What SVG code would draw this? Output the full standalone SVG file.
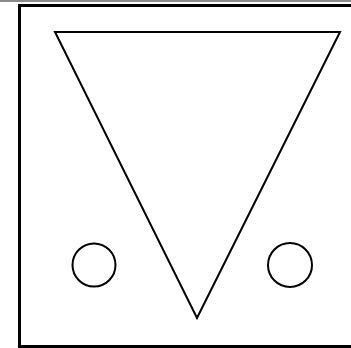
<svg xmlns="http://www.w3.org/2000/svg" width="351" height="348" viewBox="0 0 351 348">
<style>
.shape{fill:none;stroke:#000;stroke-width:2}
.border{fill:none;stroke:#000;stroke-width:3}
</style>
<rect x="0" y="0" width="351" height="348" fill="#fff"/>
<rect x="0" y="0" width="351" height="2" fill="#8a8a8a"/>
<g id="frame">
<path class="border" d="M19.5,348 V5.5 H351"/>
<path class="border" d="M19.5,346.5 H351" stroke-width="2"/>
</g>
<g id="triangle">
<polygon class="shape" points="55,32 340,32 197,318"/>
</g>
<g id="circle-left">
<circle class="shape" cx="94" cy="265" r="21.5"/>
</g>
<g id="circle-right">
<circle class="shape" cx="290" cy="265" r="22"/>
</g>
</svg>
